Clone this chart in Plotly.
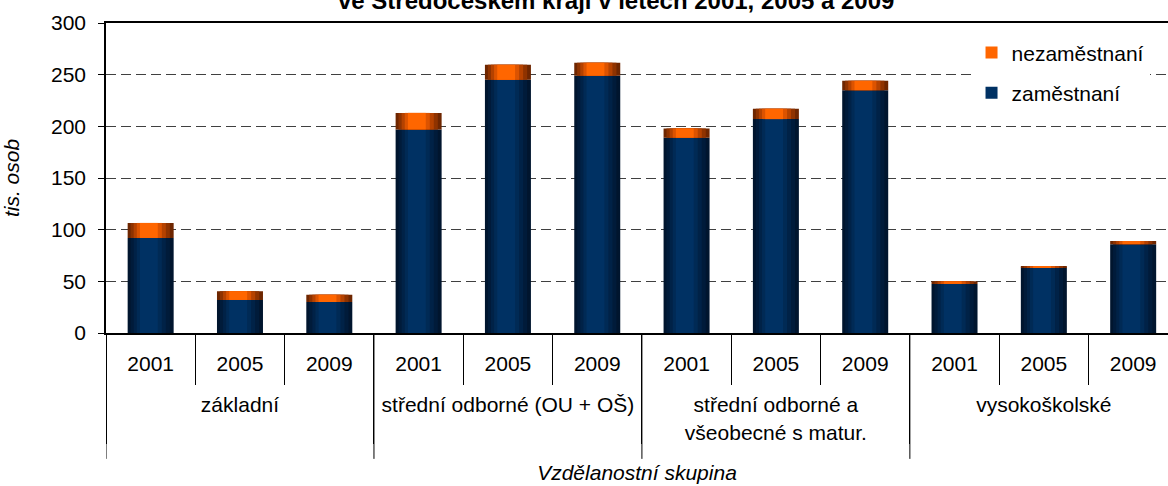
import plotly.graph_objects as go

groups = ["základní", "střední odborné (OU + OŠ)", "střední odborné a<br>všeobecné s matur.", "vysokoškolské"]
years = ["2001", "2005", "2009"]
employed = [92, 32, 30, 197, 245, 249, 189, 207, 235, 47.5, 63.5, 86]
unemployed = [14.5, 8.5, 7, 16, 14.5, 12.5, 9, 10, 9, 2.5, 0.5, 3]

x_groups = ["<br>" + g for g in groups for _ in years]
x_years = [y for _ in groups for y in years]
xcat = [x_groups, x_years]

FONT = "Liberation Sans, Arial, sans-serif"

# gradient simulation layers: (width, offset, color_emp, color_unemp)
layers = [
    (0.515, -0.2575, "#00152e", "#6e2600"),
    (0.44, -0.225, "#001b3a", "#8f3300"),
    (0.36, -0.19, "#002247", "#b54200"),
    (0.28, -0.155, "#002a55", "#dc5300"),
    (0.20, -0.12, "#003163", "#ff6600"),
]

fig = go.Figure()
for i, (w, off, ce, cu) in enumerate(layers):
    fig.add_trace(go.Bar(
        x=xcat, y=employed, base=0, width=w, offset=off,
        marker=dict(color=ce, line=dict(width=0)),
        name="zaměstnaní", legendgroup="emp", legendrank=2,
        showlegend=(i == len(layers) - 1), hoverinfo="skip"))
for i, (w, off, ce, cu) in enumerate(layers):
    fig.add_trace(go.Bar(
        x=xcat, y=unemployed, base=employed, width=w, offset=off,
        marker=dict(color=cu, line=dict(width=0)),
        name="nezaměstnaní", legendgroup="unemp", legendrank=1,
        showlegend=(i == len(layers) - 1), hoverinfo="skip"))

# group divider lines extended below the two label rows (axis decoration)
for k in range(len(groups)):
    pos = k * len(years) - 0.5
    fig.add_shape(type="line", xref="x", yref="paper", x0=pos, x1=pos,
                  y0=0, y1=-0.406, line=dict(color="black", width=1))

fig.update_layout(
    width=1168, height=486,
    margin=dict(l=106, r=0, t=23, b=153),
    paper_bgcolor="white", plot_bgcolor="white",
    barmode="overlay",
    font=dict(family=FONT, size=21, color="black"),
    showlegend=True,
    legend=dict(x=0.815, y=0.97, xanchor="left", yanchor="top",
                bgcolor="white", font=dict(size=21),
                traceorder="grouped", tracegroupgap=10),
    xaxis=dict(type="multicategory", range=[-0.5, 11.39],
               showline=True, linecolor="black", linewidth=1.5, mirror=True,
               ticks="outside", ticklen=50, tickcolor="black", tickwidth=1,
               ticklabelstandoff=11,
               showdividers=True, dividercolor="black", dividerwidth=1,
               showgrid=False, automargin=False,
               tickfont=dict(size=21),
               title=dict(text="<i>Vzdělanostní skupina</i>", font=dict(size=21), standoff=23)),
    yaxis=dict(range=[0, 300], dtick=50, tick0=0,
               showline=True, linecolor="black", linewidth=1.5,
               ticks="outside", ticklen=6, tickcolor="black",
               ticklabelstandoff=8,
               showgrid=True, gridcolor="#404040", gridwidth=1.3, griddash="10px,5px",
               zeroline=False, automargin=False,
               tickfont=dict(size=21),
               title=dict(text="<i>tis. osob</i>", font=dict(size=21), standoff=36)),
)
fig.add_annotation(
    text="<b>ve Středočeském kraji v letech 2001, 2005 a 2009</b>",
    xref="paper", yref="paper", x=0.48, y=1.022, xanchor="center", yanchor="bottom",
    showarrow=False, font=dict(size=24, family=FONT))

fig.write_html("out.html", config={"displayModeBar": False},
               post_script="document.body.style.margin='0px';")
